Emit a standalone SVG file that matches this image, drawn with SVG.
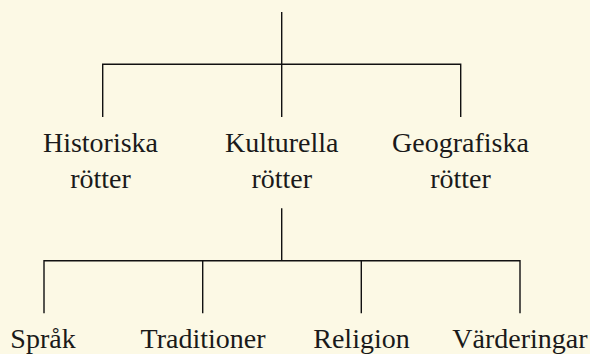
<svg xmlns="http://www.w3.org/2000/svg" width="590" height="354" viewBox="0 0 590 354">
  <style>
    .edge { fill: none; stroke: #111111; stroke-width: 1.4; stroke-linecap: butt; }
    .lbl { font-family: 'Liberation Serif', 'Times New Roman', serif; font-size: 28px; fill: #1a1a1a; text-anchor: middle; }
  </style>
  <rect width="590" height="354" fill="#FCF9E5"/>
  <g id="connectors">
    <path class="edge" d="M281.7 12 V64.3"/>
    <path class="edge" d="M102.7 117 V64.3 H460.7 V117"/>
    <path class="edge" d="M281.7 64.3 V117"/>
    <path class="edge" d="M281.7 208.3 V260.7"/>
    <path class="edge" d="M44 313.3 V260.7 H520 V313.3"/>
    <path class="edge" d="M202.7 260.7 V313.3"/>
    <path class="edge" d="M361.3 260.7 V313.3"/>
  </g>
  <g id="node-historiska">
    <text class="lbl" x="100.5" y="152.3">Historiska</text>
    <text class="lbl" x="100.5" y="188.3">rötter</text>
  </g>
  <g id="node-kulturella">
    <text class="lbl" x="281.7" y="152.3">Kulturella</text>
    <text class="lbl" x="281.7" y="188.3">rötter</text>
  </g>
  <g id="node-geografiska">
    <text class="lbl" x="460.5" y="152.3">Geografiska</text>
    <text class="lbl" x="460.5" y="188.3">rötter</text>
  </g>
  <g id="node-sprak">
    <text class="lbl" x="43" y="348">Språk</text>
  </g>
  <g id="node-traditioner">
    <text class="lbl" x="203" y="348">Traditioner</text>
  </g>
  <g id="node-religion">
    <text class="lbl" x="361.5" y="348">Religion</text>
  </g>
  <g id="node-varderingar">
    <text class="lbl" x="520" y="348">Värderingar</text>
  </g>
</svg>
